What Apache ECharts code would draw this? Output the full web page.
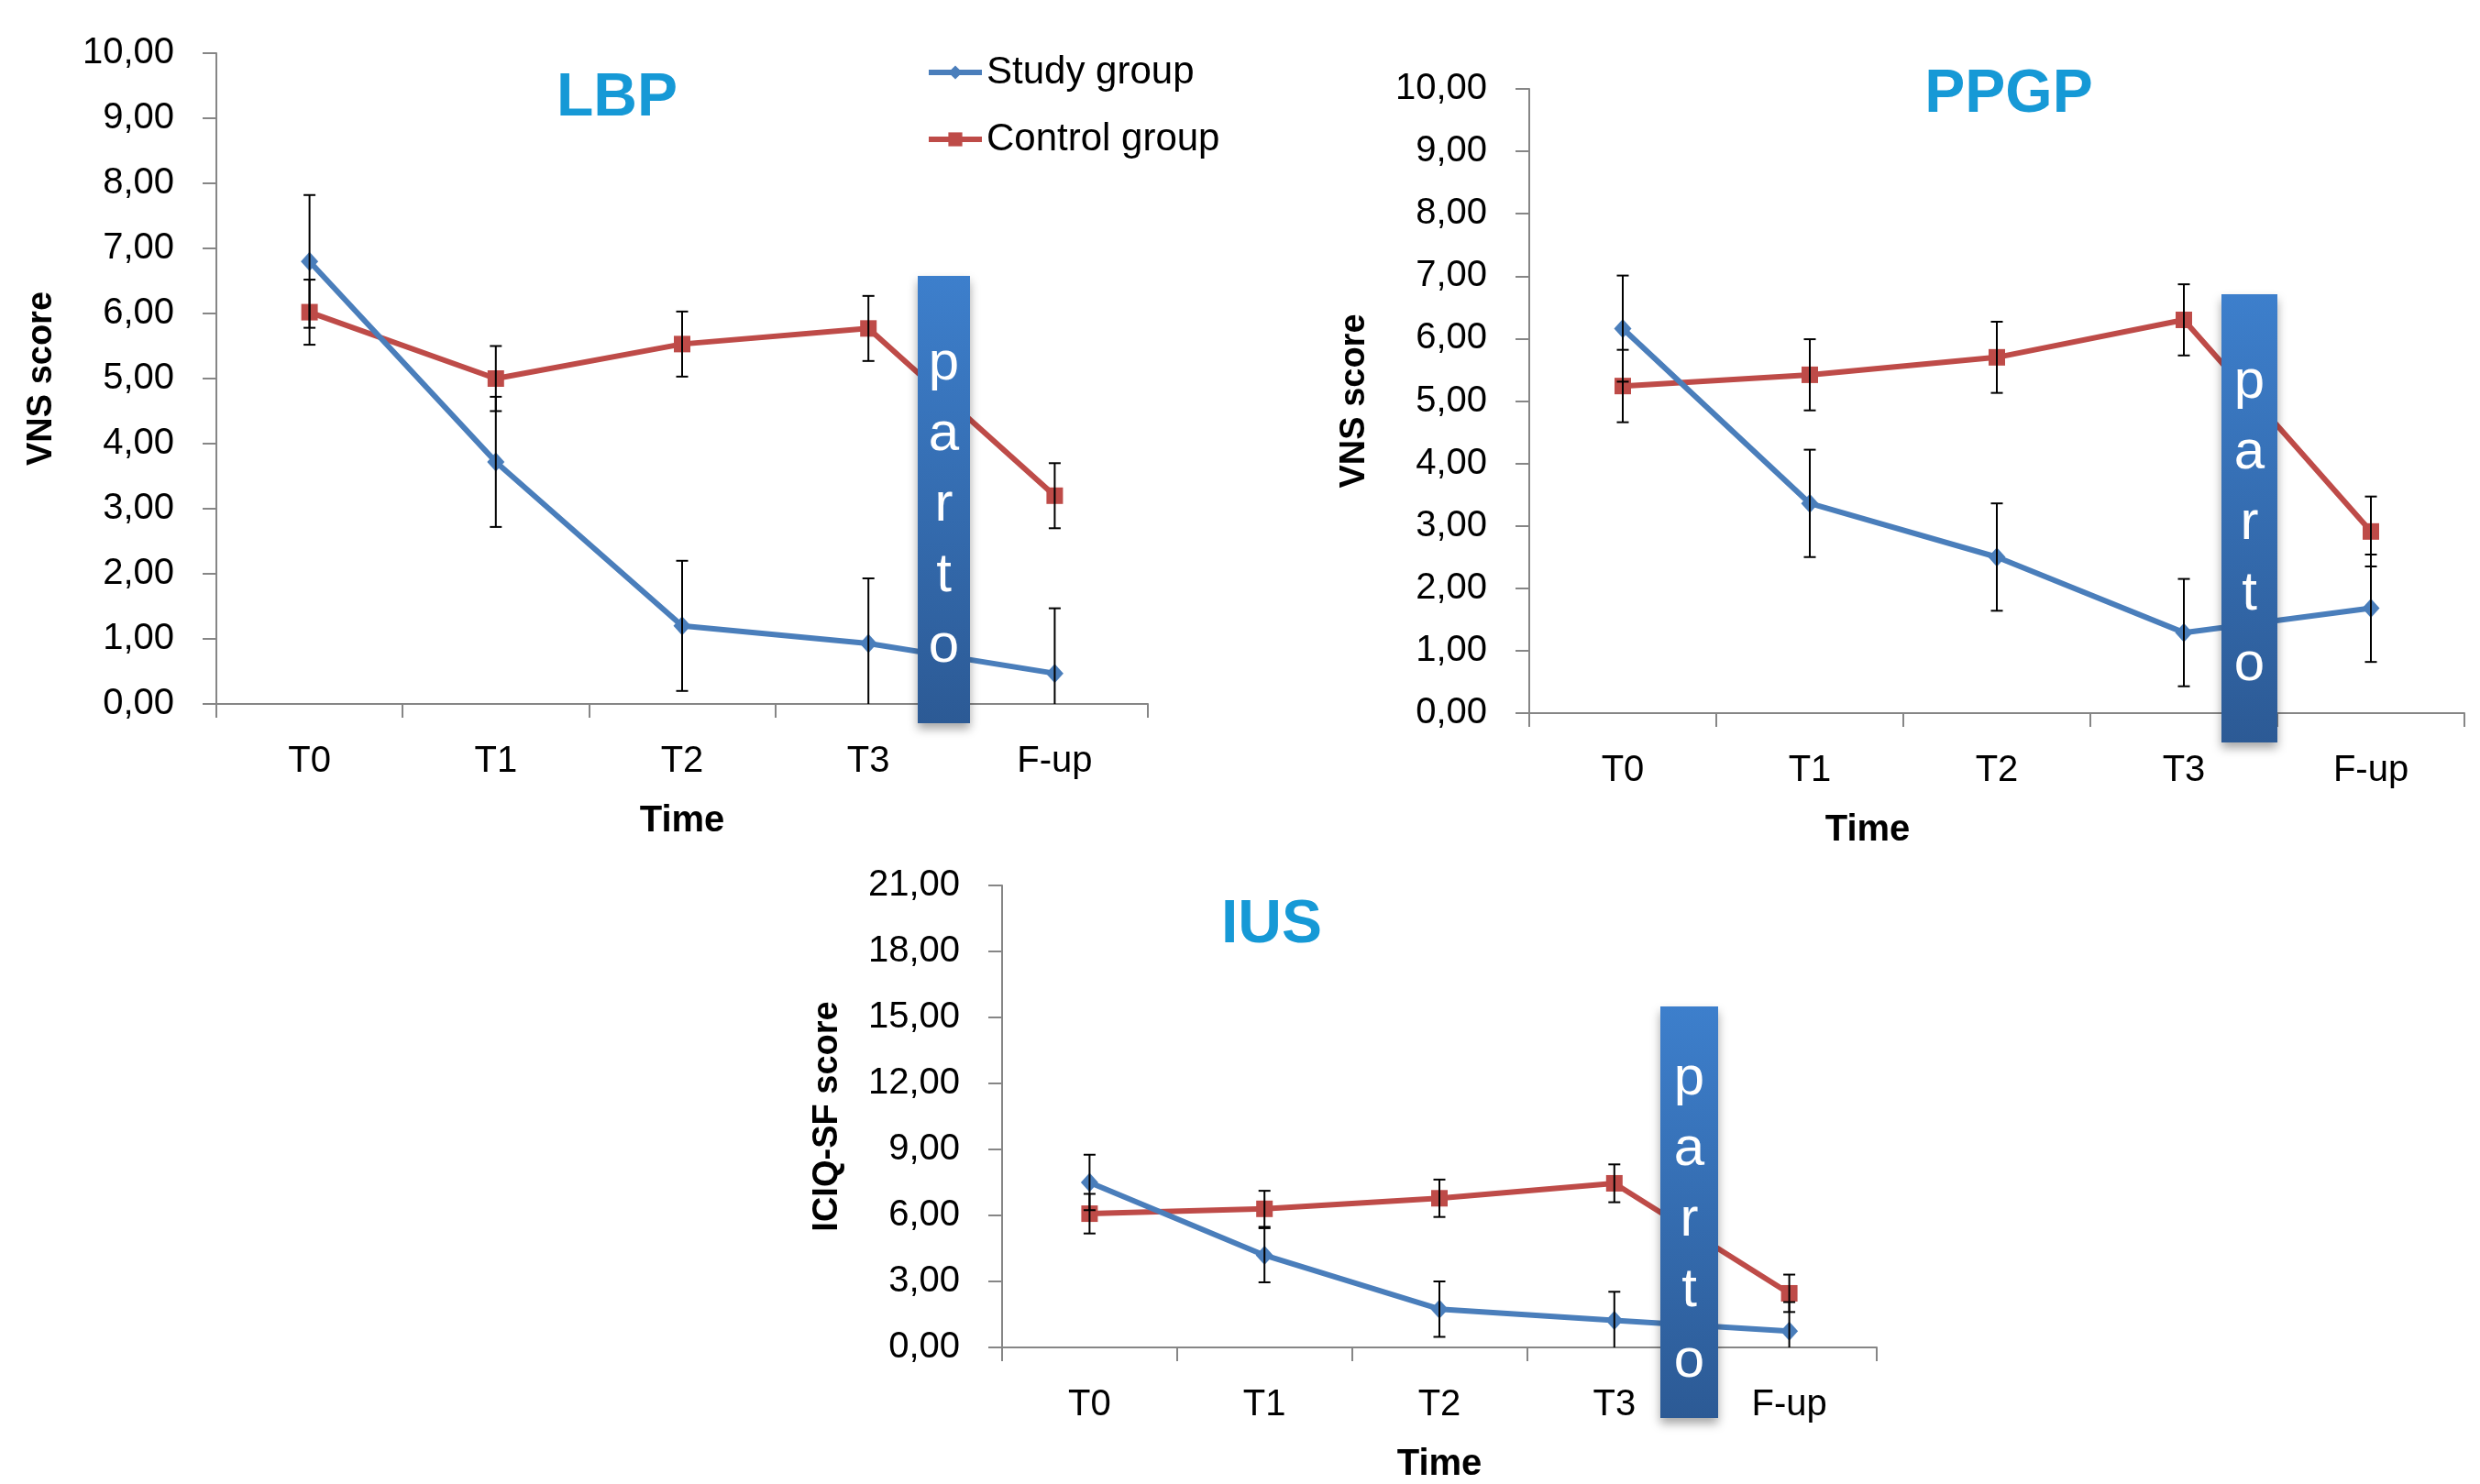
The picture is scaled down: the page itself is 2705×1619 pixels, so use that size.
<!DOCTYPE html>
<html>
<head>
<meta charset="utf-8">
<script src="https://cdn.jsdelivr.net/npm/echarts@6/dist/echarts.min.js"></script>
<style>
html,body{margin:0;padding:0;background:#fff;}
#c{width:2705px;height:1619px;}
</style>
</head>
<body>
<div id="c"></div>
<script>
const categories = ['T0', 'T1', 'T2', 'T3', 'F-up'];

const lbpStudy = [6.80, 3.72, 1.20, 0.93, 0.47];
const lbpStudyErr = [1.02, 1.00, 1.00, 1.00, 1.00];
const lbpControl = [6.02, 5.00, 5.53, 5.77, 3.20];
const lbpControlErr = [0.50, 0.50, 0.50, 0.50, 0.50];

const ppgpStudy = [6.16, 3.36, 2.50, 1.29, 1.68];
const ppgpStudyErr = [0.85, 0.86, 0.86, 0.86, 0.86];
const ppgpControl = [5.24, 5.42, 5.70, 6.30, 2.91];
const ppgpControlErr = [0.58, 0.57, 0.57, 0.57, 0.56];

const iusStudy = [7.50, 4.19, 1.74, 1.23, 0.74];
const iusStudyErr = [1.26, 1.23, 1.26, 1.30, 1.32];
const iusControl = [6.08, 6.30, 6.78, 7.46, 2.46];
const iusControlErr = [0.90, 0.82, 0.85, 0.86, 0.85];

const titles = ['LBP', 'PPGP', 'IUS'];
const yNames = ['VNS score', 'VNS score', 'ICIQ-SF score'];
const xName = 'Time';
const legendNames = ['Study group', 'Control group'];
const yMax = [10, 10, 21];
const yStep = [1, 1, 3];
const partoLetters = ['p', 'a', 'r', 't', 'o'];

const BLUE = '#4a7ebb';
const RED = '#be4b48';
const AXIS = '#868686';
const TITLE = '#1699d6';
const FONT = '"Liberation Sans", Arial, sans-serif';

const chart = echarts.init(document.getElementById('c'));

const grids = [
  {left: 236, top: 58, width: 1016, height: 710},
  {left: 1668, top: 97, width: 1020, height: 681},
  {left: 1093, top: 966, width: 954, height: 510}
];
// extra right padding shifts the "Time" label left (PPGP panel has it off-centre)
const xNamePad = [[0, 0, 0, 0], [0, 282, 0, 0], [0, 0, 0, 0]];

const fmt = v => v.toFixed(2).replace('.', ',');

const xAxes = grids.map((g, i) => ({
  type: 'category', gridIndex: i, data: categories, boundaryGap: true,
  name: xName, nameLocation: 'middle', nameGap: 108,
  nameTextStyle: {fontFamily: FONT, fontWeight: 'bold', fontSize: 40, color: '#000', verticalAlign: 'top', padding: xNamePad[i]},
  axisLine: {lineStyle: {color: AXIS, width: 2}},
  axisTick: {show: true, length: 15, lineStyle: {color: AXIS, width: 2}},
  axisLabel: {fontFamily: FONT, fontSize: 40, color: '#000', margin: 43},
  splitLine: {show: false}
}));

const yAxes = grids.map((g, i) => ({
  type: 'value', gridIndex: i, min: 0, max: yMax[i], interval: yStep[i],
  name: yNames[i], nameLocation: 'middle', nameGap: 171, nameRotate: 90,
  nameTextStyle: {fontFamily: FONT, fontWeight: 'bold', fontSize: 38, color: '#000'},
  axisLine: {show: true, lineStyle: {color: AXIS, width: 2}},
  axisTick: {show: true, length: 15, lineStyle: {color: AXIS, width: 2}},
  axisLabel: {fontFamily: FONT, fontSize: 40, color: '#000', margin: 46, formatter: fmt},
  splitLine: {show: false}
}));

function errSeries(idx, vals, errs) {
  return {
    type: 'custom', name: 'err' + idx, xAxisIndex: idx, yAxisIndex: idx, z: 4, clip: true,
    data: vals.map((v, i) => [i, v, errs[i]]),
    encode: {x: 0, y: 1},
    renderItem: function (params, api) {
      const x = api.value(0), v = api.value(1), e = api.value(2);
      const top = api.coord([x, v + e]);
      const bot = api.coord([x, v - e]);
      const hw = 6.5;
      const st = {stroke: '#000', lineWidth: 2};
      return {
        type: 'group',
        children: [
          {type: 'line', shape: {x1: top[0], y1: top[1], x2: bot[0], y2: bot[1]}, style: st},
          {type: 'line', shape: {x1: top[0] - hw, y1: top[1], x2: top[0] + hw, y2: top[1]}, style: st},
          {type: 'line', shape: {x1: bot[0] - hw, y1: bot[1], x2: bot[0] + hw, y2: bot[1]}, style: st}
        ]
      };
    }
  };
}

function lineSeries(idx, name, vals, color, symbol) {
  return {
    type: 'line', name: name, xAxisIndex: idx, yAxisIndex: idx, data: vals, z: 3,
    symbol: symbol, symbolSize: symbol === 'diamond' ? [19, 21] : 18,
    showAllSymbol: true,
    lineStyle: {color: color, width: 6},
    itemStyle: {color: color},
    emphasis: {disabled: true},
    animation: false
  };
}

const sets = [
  [lbpStudy, lbpStudyErr, lbpControl, lbpControlErr],
  [ppgpStudy, ppgpStudyErr, ppgpControl, ppgpControlErr],
  [iusStudy, iusStudyErr, iusControl, iusControlErr]
];

const series = [];
sets.forEach((s, i) => {
  series.push(lineSeries(i, legendNames[1], s[2], RED, 'rect'));
  series.push(lineSeries(i, legendNames[0], s[0], BLUE, 'diamond'));
  series.push(errSeries(i, s[2], s[3]));
  series.push(errSeries(i, s[0], s[1]));
});

const titleSpots = [[668, 70], [2186, 66], [1382, 972]];
const title = titles.map((t, i) => ({
  text: t, left: titleSpots[i][0], top: titleSpots[i][1], textAlign: 'center',
  textStyle: {fontFamily: '"Liberation Sans Narrow", "Liberation Sans", sans-serif', fontWeight: 'bold', fontSize: 66, color: TITLE}
}));

const boxes = [
  {x: 1001, y: 301, w: 57, h: 488, first: 96},
  {x: 2423, y: 321, w: 61, h: 489, first: 96},
  {x: 1811, y: 1098, w: 63, h: 449, first: 79}
];
const graphic = [];
boxes.forEach(b => {
  graphic.push({
    type: 'rect', left: b.x, top: b.y, z: 100, zlevel: 1,
    shape: {x: 0, y: 0, width: b.w, height: b.h},
    style: {
      fill: {type: 'linear', x: 0, y: 0, x2: 0, y2: 1,
        colorStops: [{offset: 0, color: '#3d7fcc'}, {offset: 1, color: '#2c5a95'}]},
      shadowBlur: 10, shadowOffsetY: 6, shadowColor: 'rgba(0,0,0,0.35)'
    }
  });
  partoLetters.forEach((l, k) => {
    graphic.push({
      type: 'text', x: b.x + b.w / 2, y: b.y + b.first + k * 77, z: 101, zlevel: 1,
      style: {text: l, fill: '#fff', fontFamily: FONT, fontSize: 60, align: 'center', verticalAlign: 'middle'}
    });
  });
});

chart.setOption({
  backgroundColor: '#fff',
  animation: false,
  title: title,
  grid: grids,
  xAxis: xAxes,
  yAxis: yAxes,
  legend: {
    data: legendNames, orient: 'vertical', left: 1005, top: 53, itemGap: 31,
    itemWidth: 58, itemHeight: 19,
    lineStyle: {width: 6},
    textStyle: {fontFamily: FONT, fontSize: 42, color: '#000'},
    selectedMode: false
  },
  graphic: graphic,
  series: series
});
</script>
</body>
</html>
